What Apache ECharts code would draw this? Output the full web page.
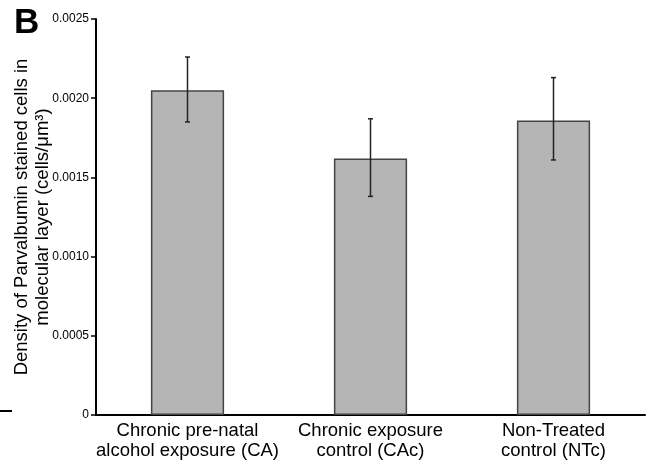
<!DOCTYPE html>
<html>
<head>
<meta charset="utf-8">
<script src="https://cdn.jsdelivr.net/npm/echarts@6/dist/echarts.min.js"></script>
<style>html,body{margin:0;padding:0;background:#fff}#c{width:648px;height:464px}</style>
</head>
<body>
<div id="c"></div>
<script>
var categories = ['Chronic pre-natal\nalcohol exposure (CA)', 'Chronic exposure\ncontrol (CAc)', 'Non-Treated\ncontrol (NTc)'];
var means = [0.00205, 0.00162, 0.00186];
var errLow = [0.00185, 0.00138, 0.00161];
var errHigh = [0.00226, 0.00187, 0.00213];
var yTicks = [0, 0.0005, 0.0010, 0.0015, 0.0020, 0.0025];

var FONT = '"Liberation Sans", Arial, Helvetica, sans-serif';
var chart = echarts.init(document.getElementById('c'), null, {renderer: 'canvas'});
var errData = categories.map(function (c, i) { return [i, errLow[i], errHigh[i]]; });

chart.setOption({
  animation: false,
  backgroundColor: '#fff',
  textStyle: {fontFamily: FONT},
  grid: {left: 96, right: 3, top: 19, bottom: 49, containLabel: false, outerBoundsMode: 'none'},
  graphic: [
    {type: 'text', left: 14, top: 6, style: {text: 'B', font: 'bold 35px ' + FONT, fill: '#000'}},
    {type: 'line', shape: {x1: 0, y1: 411, x2: 12, y2: 411}, style: {stroke: '#000', lineWidth: 2}}
  ],
  xAxis: {
    type: 'category',
    data: categories,
    axisLine: {lineStyle: {color: '#000', width: 2}},
    axisTick: {show: false},
    axisLabel: {color: '#000', fontSize: 18.5, lineHeight: 20, margin: 6, fontFamily: FONT, interval: 0}
  },
  yAxis: {
    type: 'value',
    min: 0, max: 0.0025, interval: 0.0005,
    name: 'Density of Parvalbumin stained cells in\nmolecular layer (cells/μm³)',
    nameLocation: 'middle',
    nameGap: 43,
    nameMoveOverlap: false,
    nameTextStyle: {color: '#000', fontSize: 18.5, lineHeight: 21, fontFamily: FONT, align: 'center'},
    splitLine: {show: false},
    axisLine: {show: true, lineStyle: {color: '#000', width: 2}},
    axisTick: {show: true, length: 5, lineStyle: {color: '#000', width: 1.5}},
    axisLabel: {
      color: '#000', fontSize: 12, margin: 7, fontFamily: FONT,
      formatter: function (v) { return v === 0 ? '0' : v.toFixed(4); }
    }
  },
  series: [
    {
      type: 'bar',
      data: means,
      barWidth: '40%',
      itemStyle: {color: '#b5b5b5', borderColor: '#444', borderWidth: 1.5}
    },
    {
      type: 'custom',
      data: errData,
      z: 10,
      renderItem: function (params, api) {
        var x = api.value(0);
        var lo = api.coord([x, api.value(1)]);
        var hi = api.coord([x, api.value(2)]);
        var hw = 2.5;
        var st = {stroke: '#222', lineWidth: 1.5};
        return {
          type: 'group',
          children: [
            {type: 'line', shape: {x1: hi[0], y1: hi[1], x2: lo[0], y2: lo[1]}, style: st},
            {type: 'line', shape: {x1: hi[0] - hw, y1: hi[1], x2: hi[0] + hw, y2: hi[1]}, style: st},
            {type: 'line', shape: {x1: lo[0] - hw, y1: lo[1], x2: lo[0] + hw, y2: lo[1]}, style: st}
          ]
        };
      }
    }
  ]
});
</script>
</body>
</html>
